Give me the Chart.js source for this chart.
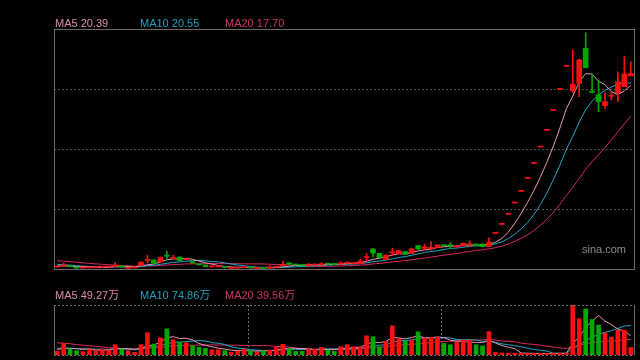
<!DOCTYPE html>
<html><head><meta charset="utf-8">
<script src="https://cdn.jsdelivr.net/npm/chart.js@4/dist/chart.umd.min.js"></script>
<style>
html,body{margin:0;padding:0;background:#000;}
#wrap{position:relative;width:640px;height:360px;background:#000;overflow:hidden;font-family:"Liberation Sans",Arial,"Noto Sans CJK SC",sans-serif;}
canvas{position:absolute;left:0;}
.lbl{position:absolute;font-size:11px;line-height:11px;white-space:nowrap;}
</style></head>
<body><div id="wrap">
<canvas id="main" width="640" height="280" style="top:0;width:640px;height:280px"></canvas>
<canvas id="vol" width="640" height="80" style="top:280px;width:640px;height:80px"></canvas>
</div>
<script>
// ---- data ----
const prevCloses = [6.15,6.1,6.05,6.0,6.1,5.95,5.9,6.0,5.85,5.9,5.7,5.6,5.5,5.45,5.4,5.3,5.25,5.28,5.2];
const prevVolumes = [50,42,55,38,48,40,45,52,36,43,25,18,22,16,19,14,17,15,15];
const openPrices = [5.17,5.25,5.30,5.15,5.08,5.10,5.12,5.15,5.17,5.22,
5.25,5.06,5.10,5.28,5.72,5.75,5.60,6.10,5.88,6.00,
5.78,5.60,5.38,5.33,5.18,5.19,5.20,5.06,5.07,5.10,
5.12,5.05,5.08,5.10,5.15,5.28,5.50,5.38,5.33,5.28,
5.33,5.36,5.45,5.42,5.40,5.48,5.45,5.45,5.95,6.67,
6.30,5.80,6.35,6.30,6.45,6.30,6.95,6.72,6.67,6.80,
6.97,7.00,6.84,6.92,7.00,7.08,7.08,6.86,7.97,8.72,
9.56,10.50,11.47,12.55,13.80,15.16,16.56,18.22,19.97,21.89,
19.86,20.47,23.39,19.78,19.50,18.61,19.40,19.69,20.19,21.10];
const closePrices = [5.22,5.35,5.20,5.08,5.10,5.13,5.15,5.18,5.20,5.30,
5.17,5.10,5.14,5.58,5.77,5.48,5.95,6.07,5.95,5.70,
5.82,5.50,5.35,5.20,5.20,5.22,5.12,5.10,5.10,5.12,
5.09,5.08,5.06,5.15,5.20,5.35,5.40,5.33,5.30,5.35,
5.38,5.42,5.40,5.38,5.50,5.55,5.52,5.65,6.00,6.33,
5.95,6.15,6.42,6.52,6.23,6.67,6.67,6.85,6.80,7.00,
6.94,6.92,6.87,7.14,7.10,6.95,6.86,7.25,7.97,8.72,
9.56,10.50,11.47,12.55,13.80,15.16,16.56,18.22,19.97,21.89,
20.39,22.42,21.77,19.72,18.94,18.94,19.47,20.61,21.25,21.30];
const highPrices = [5.25,5.50,5.32,5.18,5.13,5.15,5.17,5.20,5.22,5.55,
5.28,5.14,5.16,5.60,6.15,5.78,6.00,6.50,6.15,6.02,
5.85,5.65,5.40,5.35,5.23,5.25,5.22,5.12,5.12,5.15,
5.14,5.10,5.10,5.28,5.22,5.65,5.52,5.40,5.35,5.47,
5.40,5.52,5.47,5.44,5.60,5.58,5.55,5.80,6.30,6.70,
6.32,6.18,6.75,6.55,6.48,6.75,6.97,7.08,7.27,7.05,
7.00,7.20,6.90,7.17,7.35,7.10,7.10,7.60,7.97,8.72,
9.56,10.50,11.47,12.55,13.80,15.16,16.56,18.22,19.97,21.89,
23.25,22.48,24.69,21.22,20.75,19.69,19.78,21.44,22.75,22.27];
const lowPrices = [5.15,5.22,5.18,5.05,5.06,5.08,5.10,5.13,5.15,5.20,
5.15,5.04,5.08,5.25,5.50,5.45,5.55,5.75,5.85,5.68,
5.75,5.48,5.32,5.18,5.16,5.17,5.10,5.04,5.05,5.08,
5.07,5.03,5.04,5.02,5.13,5.25,5.38,5.31,5.28,5.15,
5.31,5.20,5.38,5.36,5.35,5.46,5.43,5.42,5.70,6.00,
5.90,5.78,6.15,6.28,6.20,6.28,6.60,6.58,6.58,6.78,
6.92,6.70,6.82,6.90,6.85,6.93,6.84,6.85,7.97,8.72,
9.56,10.50,11.47,12.55,13.80,15.16,16.56,18.22,19.97,21.89,
19.70,19.36,21.77,19.70,18.10,18.39,19.08,18.94,20.19,21.10];
const volumes = [9.3,29.5,15.2,10.9,8.3,15.2,12.6,15.2,12.6,26,
15.2,10.9,6.8,26,56.3,27.8,43.7,66.4,38.6,32.8,
31.1,23.5,19.4,16.9,13.4,13.4,10.9,6.8,9.3,15.2,
10.9,6.8,10.9,12.6,19.4,27,16.9,9.3,9.3,15.2,
15.2,19.4,12.6,9.3,21,26,21,21,48.7,46.2,
21,34.6,74,40.4,34.6,37.9,58.8,42.9,44.7,44.7,
29.5,26,32.1,37.9,37.9,26,23.5,59.3,6.5,5.2,
4.8,4.5,4.0,3.8,3.5,4.2,3.9,4.5,4.6,4.8,
127,92,117,90,76,55.6,45.5,63.1,63.1,19];
const priceTicks = [10, 15, 20];
const maPeriods = [5, 10, 20];
const priceLabels = ['MA5 20.39', 'MA10 20.55', 'MA20 17.70'];
const volumeLabels = ['MA5 49.27万', 'MA10 74.86万', 'MA20 39.56万'];
const categories = openPrices.map((_, i) => 'D' + (i + 1));

// ---- styles ----
const UP = '#ff1010', DOWN = '#00a800';
const MA_COLORS = ['#e898b4', '#1ea6c8', '#d82a62'];
const LABEL_COLORS = ['#dc8ca4', '#1aa0c0', '#d0306a'];
const LABEL_X = [55, 140, 225];

function movingAvg(prev, arr, n) {
  const all = prev.concat(arr);
  const off = prev.length;
  return arr.map((_, i) => {
    const end = off + i;
    const start = Math.max(0, end - n + 1);
    let s = 0; for (let k = start; k <= end; k++) s += all[k];
    return s / (end - start + 1);
  });
}
const barColors = openPrices.map((o, i) => closePrices[i] >= o ? UP : DOWN);

// labels
const wrap = document.getElementById('wrap');
function addLabel(t, x, y, c) {
  const d = document.createElement('div'); d.className = 'lbl';
  d.textContent = t; d.style.left = x + 'px'; d.style.top = y + 'px'; d.style.color = c;
  wrap.appendChild(d);
}
priceLabels.forEach((t, i) => addLabel(t, LABEL_X[i], 18, LABEL_COLORS[i]));
volumeLabels.forEach((t, i) => addLabel(t, LABEL_X[i], 290, LABEL_COLORS[i]));
const sina = document.createElement('div'); sina.className = 'lbl';
sina.textContent = 'sina.com'; sina.style.left = '582px'; sina.style.top = '244px';
sina.style.color = '#8a8a8a'; sina.style.fontSize = '11px'; wrap.appendChild(sina);

function dotted(ctx, x1, y1, x2, y2, color) {
  ctx.save(); ctx.strokeStyle = color; ctx.lineWidth = 1; ctx.setLineDash([2, 2]);
  ctx.beginPath(); ctx.moveTo(x1, y1); ctx.lineTo(x2, y2); ctx.stroke(); ctx.restore();
}
function solid(ctx, x1, y1, x2, y2, color) {
  ctx.save(); ctx.strokeStyle = color; ctx.lineWidth = 1;
  ctx.beginPath(); ctx.moveTo(x1, y1); ctx.lineTo(x2, y2); ctx.stroke(); ctx.restore();
}
const px = v => Math.floor(v) + 0.5;

const mainDeco = {
  id: 'mainDeco',
  beforeDatasetsDraw(chart) {
    const { ctx, chartArea: a, scales } = chart;
    priceTicks.forEach(v => {
      const y = px(scales.y.getPixelForValue(v));
      dotted(ctx, a.left, y, a.right, y, '#505050');
    });
  },
  afterDatasetsDraw(chart) {
    const { ctx, chartArea: a } = chart;
    ctx.save(); ctx.strokeStyle = '#6a6a6a'; ctx.lineWidth = 1;
    ctx.strokeRect(px(a.left), px(a.top), Math.round(a.right - a.left), Math.round(a.bottom - a.top));
    ctx.restore();
  }
};
const volDeco = {
  id: 'volDeco',
  beforeDatasetsDraw(chart) {
    const { ctx, chartArea: a, scales } = chart;
    [30, 60].forEach(i => {
      const x = px((scales.x.getPixelForValue(i - 1) + scales.x.getPixelForValue(i)) / 2 + 1);
      dotted(ctx, x, a.top, x, a.bottom, '#6a6a6a');
    });
  },
  afterDatasetsDraw(chart) {
    const { ctx, chartArea: a } = chart;
    dotted(ctx, a.left, px(a.top), a.right, px(a.top), '#707070');
    dotted(ctx, a.left, px(a.bottom), a.right, px(a.bottom), '#707070');
    solid(ctx, px(a.left), a.top, px(a.left), a.bottom, '#6a6a6a');
    solid(ctx, px(a.right), a.top, px(a.right), a.bottom, '#6a6a6a');
  }
};

const baseOpts = {
  responsive: false, animation: false, devicePixelRatio: 1,
  plugins: { legend: { display: false }, tooltip: { enabled: false } },
  events: []
};

new Chart(document.getElementById('main'), {
  type: 'bar',
  data: {
    labels: categories,
    datasets: [
      { type: 'bar', data: openPrices.map((o, i) => [o, closePrices[i]]), backgroundColor: barColors,
        barThickness: 5, minBarLength: 1, grouped: false, order: 0 },
      { type: 'bar', data: lowPrices.map((l, i) => [l, highPrices[i]]), backgroundColor: barColors,
        barThickness: 1, grouped: false, order: 1 },
      ...maPeriods.map((n, k) => ({
        type: 'line', data: movingAvg(prevCloses, closePrices, n), borderColor: MA_COLORS[k],
        borderWidth: 1, pointRadius: 0, tension: 0, order: 2 + k
      }))
    ]
  },
  options: Object.assign({}, baseOpts, {
    layout: { padding: { left: 54, right: 6, top: 29, bottom: 11 } },
    scales: {
      x: { display: false, offset: true },
      y: { display: false, min: 5, max: 25 }
    }
  }),
  plugins: [mainDeco]
});

new Chart(document.getElementById('vol'), {
  type: 'bar',
  data: {
    labels: categories,
    datasets: [
      { type: 'bar', data: volumes, backgroundColor: barColors, barThickness: 4, grouped: false, order: 0 },
      ...maPeriods.map((n, k) => ({
        type: 'line', data: movingAvg(prevVolumes, volumes, n), borderColor: MA_COLORS[k],
        borderWidth: 1, pointRadius: 0, tension: 0, order: 1 + k
      }))
    ]
  },
  options: Object.assign({}, baseOpts, {
    layout: { padding: { left: 54, right: 6, top: 25, bottom: 5 } },
    scales: {
      x: { display: false, offset: true },
      y: { display: false, min: 0, max: Math.max(...volumes) }
    }
  }),
  plugins: [volDeco]
});
</script>
</body></html>
